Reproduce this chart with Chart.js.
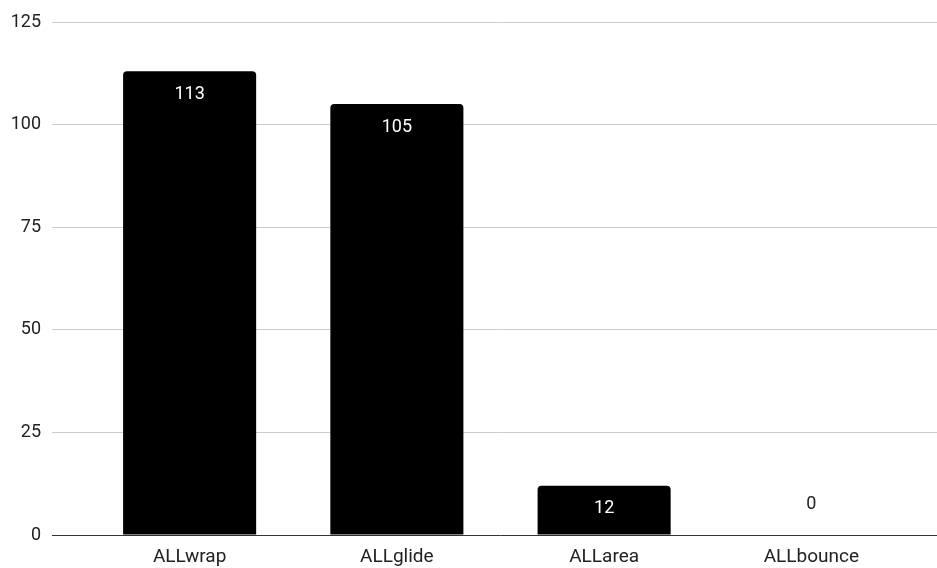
<!DOCTYPE html>
<html>
<head>
<meta charset="utf-8">
<script src="https://cdn.jsdelivr.net/npm/chart.js@4.4.0/dist/chart.umd.min.js"></script>
<style>
  html, body { margin: 0; padding: 0; background: #fff; }
  #wrap { width: 937px; height: 568px; }
</style>
</head>
<body>
<div id="wrap"><canvas id="barChart"></canvas></div>
<script>
const categories = ['ALLwrap', 'ALLglide', 'ALLarea', 'ALLbounce'];
const counts = [113, 105, 12, 0];
const yTicks = [0, 25, 50, 75, 100, 125];

const FONT = 'Roboto, "Liberation Sans", Arial, sans-serif';

// white value labels inside the bar tops, black above when the bar is too short
const valueLabels = {
  id: 'valueLabels',
  afterDatasetsDraw(chart) {
    const ctx = chart.ctx;
    const meta = chart.getDatasetMeta(0);
    ctx.save();
    ctx.font = '18px ' + FONT;
    ctx.textAlign = 'center';
    ctx.textBaseline = 'middle';
    meta.data.forEach((bar, i) => {
      const h = bar.base - bar.y;
      if (h > 30) {
        ctx.fillStyle = '#fff';
        ctx.fillText(String(counts[i]), bar.x, bar.y + 23);
      } else {
        ctx.fillStyle = '#222';
        ctx.fillText(String(counts[i]), bar.x, bar.base - 31);
      }
    });
    ctx.restore();
  }
};

const gridColor = (c) => (c.tick && c.tick.value === 0 ? '#333' : '#ccc');

new Chart(document.getElementById('barChart'), {
  type: 'bar',
  data: {
    labels: categories,
    datasets: [{
      data: counts,
      backgroundColor: '#000',
      borderRadius: 4,
      categoryPercentage: 1,
      barPercentage: 0.642
    }]
  },
  options: {
    responsive: true,
    maintainAspectRatio: false,
    animation: false,
    layout: { padding: { top: 22, bottom: 0, left: 0, right: 0 } },
    plugins: {
      legend: { display: false },
      tooltip: { enabled: false }
    },
    scales: {
      x: {
        afterFit: (s) => { s.height = 33; },
        grid: { display: false, drawTicks: false },
        border: { display: false },
        ticks: { color: '#222', padding: 11, font: { family: FONT, size: 19 } }
      },
      y: {
        min: 0,
        max: 125,
        afterBuildTicks: (s) => { s.ticks = yTicks.map(v => ({ value: v })); },
        afterFit: (s) => { s.width = 86; },
        grid: { color: gridColor, lineWidth: 1, tickLength: 34 },
        border: { display: false },
        ticks: { color: '#222', padding: 11, font: { family: FONT, size: 18 } }
      },
      y2: {
        position: 'right',
        min: 0,
        max: 125,
        afterBuildTicks: (s) => { s.ticks = yTicks.map(v => ({ value: v })); },
        afterFit: (s) => { s.width = 22; },
        grid: { color: gridColor, lineWidth: 1, tickLength: 22, drawOnChartArea: false },
        border: { display: false },
        ticks: { display: false }
      }
    }
  },
  plugins: [valueLabels]
});
</script>
</body>
</html>
